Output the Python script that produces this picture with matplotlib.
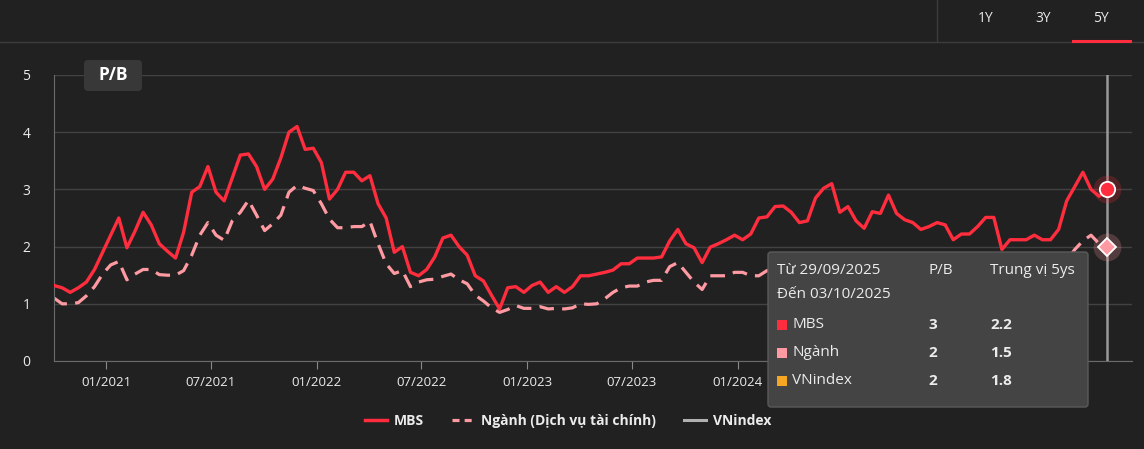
import numpy as np
import pandas as pd
import matplotlib
matplotlib.use("Agg")
import matplotlib.pyplot as plt
from matplotlib.lines import Line2D
from matplotlib.patches import FancyBboxPatch, Rectangle
from matplotlib.transforms import IdentityTransform

plt.rcParams['font.family'] = ['Open Sans', 'DejaVu Sans']

# ---- data (P/B, biweekly samples) ----
dates = pd.date_range('2020-10-02', '2025-10-03', periods=131)

mbs = [1.32, 1.28, 1.2, 1.28, 1.38, 1.6, 1.9, 2.2, 2.5, 1.98,
       2.27, 2.6, 2.38, 2.05, 1.92, 1.8, 2.25, 2.95, 3.05, 3.4,
       2.95, 2.8, 3.2, 3.6, 3.62, 3.4, 3.0, 3.18, 3.55, 4.0,
       4.1, 3.7, 3.72, 3.47, 2.83, 3.0, 3.3, 3.3, 3.15, 3.24,
       2.75, 2.5, 1.9, 2.0, 1.55, 1.49, 1.6, 1.82, 2.15, 2.2,
       2.0, 1.85, 1.49, 1.4, 1.15, 0.91, 1.28, 1.3, 1.2, 1.32,
       1.38, 1.2, 1.3, 1.2, 1.3, 1.49, 1.49, 1.52, 1.55, 1.59,
       1.7, 1.7, 1.8, 1.8, 1.8, 1.82, 2.1, 2.3, 2.05, 1.98,
       1.72, 1.99, 2.05, 2.12, 2.2, 2.12, 2.22, 2.5, 2.52, 2.7,
       2.71, 2.6, 2.42, 2.45, 2.85, 3.02, 3.1, 2.6, 2.7, 2.45,
       2.32, 2.61, 2.58, 2.9, 2.58, 2.47, 2.42, 2.3, 2.35, 2.42,
       2.38, 2.12, 2.22, 2.22, 2.35, 2.51, 2.51, 1.95, 2.12, 2.12,
       2.12, 2.2, 2.12, 2.12, 2.3, 2.8, 3.05, 3.3, 3.0, 2.88,
       3.0]

nganh = [1.1, 1.0, 1.0, 1.02, 1.14, 1.3, 1.52, 1.68, 1.74, 1.42,
         1.52, 1.6, 1.6, 1.51, 1.5, 1.5, 1.58, 1.85, 2.2, 2.42,
         2.2, 2.11, 2.45, 2.6, 2.81, 2.55, 2.28, 2.4, 2.55, 2.95,
         3.07, 3.02, 2.98, 2.75, 2.48, 2.33, 2.33, 2.35, 2.35, 2.44,
         2.05, 1.7, 1.53, 1.58, 1.3, 1.38, 1.42, 1.43, 1.48, 1.52,
         1.42, 1.35, 1.15, 1.05, 0.93, 0.85, 0.9, 0.97, 0.92, 0.92,
         0.95, 0.91, 0.92, 0.91, 0.93, 1.0, 0.99, 1.0, 1.09, 1.2,
         1.28, 1.31, 1.31, 1.38, 1.41, 1.41, 1.65, 1.72, 1.55, 1.38,
         1.25, 1.49, 1.49, 1.49, 1.55, 1.55, 1.49, 1.49, 1.58, 1.6,
         1.62, 1.6, 1.58, 1.62, 1.7, 1.75, 1.78, 1.65, 1.68, 1.6,
         1.55, 1.62, 1.6, 1.7, 1.62, 1.6, 1.58, 1.55, 1.55, 1.58,
         1.55, 1.5, 1.52, 1.52, 1.55, 1.6, 1.6, 1.45, 1.5, 1.5,
         1.5, 1.52, 1.5, 1.5, 1.55, 1.75, 1.95, 2.1, 2.2, 2.05,
         2.0]

tick_dates = pd.to_datetime(['2021-01-01', '2021-07-01', '2022-01-01', '2022-07-01',
                             '2023-01-01', '2023-07-01', '2024-01-01', '2024-07-01',
                             '2025-01-01', '2025-07-01'])
# the last three labels sit under the tooltip in the reference
tick_labels = ['01/2021', '07/2021', '01/2022', '07/2022', '01/2023',
               '07/2023', '01/2024', '', '', '']

# tooltip content
tt_series = ['MBS', 'Ngành', 'VNindex']
tt_pb = ['3', '2', '2']
tt_median = ['2.2', '1.5', '1.8']
tt_colors = ['#ff2d3d', '#ff9aa2', '#f5a623']

BG = '#212121'
RED = '#ff2d3d'
PINK = '#ff9aa2'
GRID = '#424242'
TXT = '#ececec'

W, H = 1144, 449
fig = plt.figure(figsize=(W / 100, H / 100), dpi=100, facecolor=BG)


def fx(x):
    return x / W


def fy(y):
    return 1 - y / H


ax = fig.add_axes([fx(54), fy(361), fx(1132) - fx(54), fy(75) - fy(361)])
ax.set_facecolor(BG)

ax.plot(dates, mbs, color=RED, lw=2.4, zorder=3)
ax.plot(dates, nganh, color=PINK, lw=2.3, dashes=(4.6, 2.6), zorder=2)

# hover crosshair + end markers
ax.axvline(dates[-1], color='#9a9a9a', lw=1.8, zorder=4)
ax.plot(dates[-1], mbs[-1], 'o', ms=20, color=RED, alpha=0.22, mec='none', zorder=5)
ax.plot(dates[-1], mbs[-1], 'o', ms=11, color=RED, mec='white', mew=1.3, zorder=6)
ax.plot(dates[-1], nganh[-1], 'o', ms=20, color=PINK, alpha=0.22, mec='none', zorder=5)
ax.plot(dates[-1], nganh[-1], 'D', ms=9, color=PINK, mec='white', mew=1.3, zorder=6)

ax.set_ylim(0, 5)
ax.set_yticks(range(6))
ax.set_xlim(dates[0], dates[-1] + pd.Timedelta(days=43))
ax.set_xticks(tick_dates)
ax.set_xticklabels(tick_labels)
ax.grid(axis='y', color=GRID, lw=1)
ax.set_axisbelow(True)
for s in ['top', 'right']:
    ax.spines[s].set_visible(False)
ax.spines['left'].set_color('#6a6a6a')
ax.spines['bottom'].set_color('#6a6a6a')
ax.tick_params(axis='y', length=0, pad=17, labelcolor=TXT, labelsize=10)
ax.tick_params(axis='x', length=6, color='#8a8a8a', pad=5, labelcolor=TXT, labelsize=9.5)

# P/B badge
badge = FancyBboxPatch((84, H - 91), 58, 31, boxstyle='round,pad=0,rounding_size=4',
                       transform=IdentityTransform(), fc='#383838', ec='none', zorder=2)
fig.add_artist(badge)
fig.text(fx(113), fy(75), 'P/B', color='white', fontsize=12.5, fontweight='bold',
         ha='center', va='center', zorder=3)

# top bar
fig.add_artist(Line2D([0, 1], [fy(42)] * 2, transform=fig.transFigure, color='#3c3c3c', lw=1))
fig.add_artist(Line2D([fx(937)] * 2, [fy(0), fy(42)], transform=fig.transFigure, color='#3c3c3c', lw=1))
fig.add_artist(Line2D([fx(1073), fx(1130)], [fy(40.5)] * 2, transform=fig.transFigure, color=RED, lw=2.2))
for lab, xp in zip(['1Y', '3Y', '5Y'], [986, 1043, 1101]):
    fig.text(fx(xp), fy(19), lab, color=TXT, fontsize=10, ha='center', va='center')

# tooltip box
tip = FancyBboxPatch((768, H - 407), 320, 155, boxstyle='round,pad=0,rounding_size=3',
                     transform=IdentityTransform(), fc='#444444', ec='#5a5a5a', lw=1, zorder=10)
fig.add_artist(tip)
tfs = 11
fig.text(fx(777), fy(271), 'Từ 29/09/2025', color=TXT, fontsize=tfs, va='center', zorder=11)
fig.text(fx(777), fy(295), 'Đến 03/10/2025', color=TXT, fontsize=tfs, va='center', zorder=11)
fig.text(fx(928), fy(271), 'P/B', color=TXT, fontsize=tfs, va='center', zorder=11)
fig.text(fx(990), fy(271), 'Trung vị 5ys', color=TXT, fontsize=tfs, va='center', zorder=11)
for i, (name, pb, med, col) in enumerate(zip(tt_series, tt_pb, tt_median, tt_colors)):
    yy = 325 + i * 28
    fig.add_artist(Rectangle((777, H - yy - 5), 10, 10, transform=IdentityTransform(),
                             fc=col, ec='none', zorder=11))
    fig.text(fx(792), fy(yy), name, color=TXT, fontsize=tfs, va='center', zorder=11)
    fig.text(fx(928), fy(yy), pb, color=TXT, fontsize=tfs, fontweight='bold', va='center', zorder=11)
    fig.text(fx(990), fy(yy), med, color=TXT, fontsize=tfs, fontweight='bold', va='center', zorder=11)

# legend
handles = [Line2D([], [], color=RED, lw=2.5),
           Line2D([], [], color=PINK, lw=2.3, dashes=(2.2, 1.6)),
           Line2D([], [], color='#b0b0b0', lw=2.2)]
labels = ['MBS', 'Ngành (Dịch vụ tài chính)', 'VNindex']
leg = fig.legend(handles, labels, loc='center', bbox_to_anchor=(fx(568), fy(421)), ncol=3,
                 frameon=False, handlelength=1.6, handletextpad=0.5, columnspacing=2.0,
                 prop={'size': 10, 'weight': 'bold'})
for t in leg.get_texts():
    t.set_color(TXT)

fig.savefig('out.png', dpi=100, facecolor=BG)
